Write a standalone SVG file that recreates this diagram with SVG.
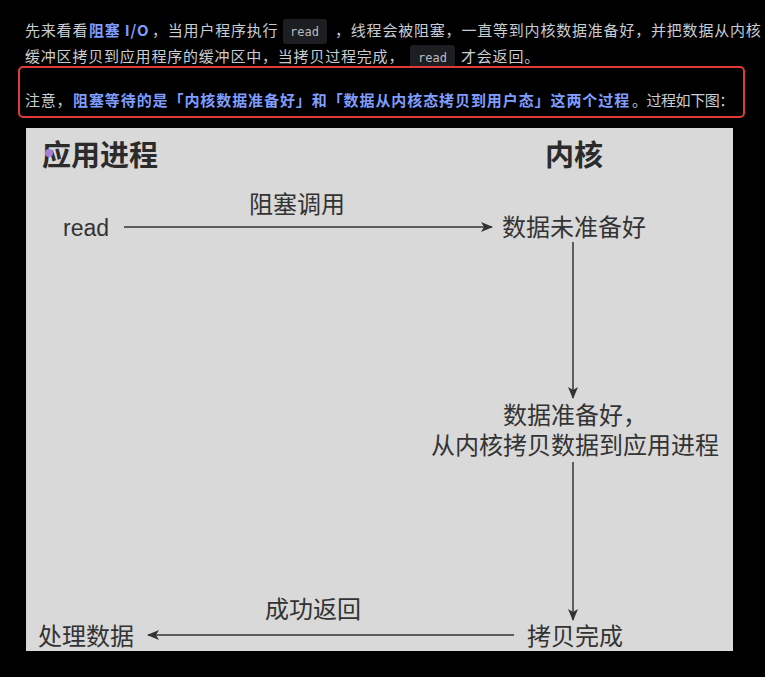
<svg xmlns="http://www.w3.org/2000/svg" width="765" height="677" viewBox="0 0 765 677">
<defs>
<style>
.p{font-family:"Noto Sans CJK SC","Noto Sans",sans-serif;font-size:15px;fill:#c9cdd1;letter-spacing:0.8px}
.b{fill:#7f9cff;font-weight:bold}
.code{font-family:"DejaVu Sans Mono","Liberation Mono",monospace;font-size:12px;fill:#b8bcc0}
.chip{fill:#1c1e21}
.t{font-family:"Noto Sans CJK SC","Liberation Sans",sans-serif;font-size:24px;fill:#333}
.h{font-family:"Noto Sans CJK SC",sans-serif;font-size:29px;font-weight:bold;fill:#2b2b2b}
.ln{stroke:#333;stroke-width:1.5;fill:none}
</style>
<marker id="ah" viewBox="0 0 12 10" refX="11" refY="5" markerWidth="12" markerHeight="10" markerUnits="userSpaceOnUse" orient="auto">
<path d="M0,0 L12,5 L0,10 L3,5 Z" fill="#333"/>
</marker>
</defs>
<rect width="765" height="677" fill="#000"/>
<g id="paragraph">
<text class="p" y="36"><tspan x="25">先来看看</tspan><tspan class="b" x="89">阻塞 I/O</tspan><tspan x="152">，当用户程序执行</tspan></text>
<rect class="chip" x="283" y="19" width="44" height="25" rx="3"/>
<text class="code" x="290" y="36">read</text>
<text class="p" x="335" y="36">，线程会被阻塞，一直等到内核数据准备好，并把数据从内核</text>
<text class="p" x="25" y="62">缓冲区拷贝到应用程序的缓冲区中，当拷贝过程完成，</text>
<rect class="chip" x="410" y="45" width="45" height="23" rx="3"/>
<text class="code" x="418" y="62">read</text>
<text class="p" x="461" y="62">才会返回。</text>
</g>
<g id="note">
<rect x="19" y="67" width="725" height="50" rx="4" fill="none" stroke="#e03a3a" stroke-width="2"/>
<text class="p" y="106"><tspan x="25">注意，</tspan><tspan class="b" x="73" textLength="557" lengthAdjust="spacing">阻塞等待的是「内核数据准备好」和「数据从内核态拷贝到用户态」这两个过程</tspan><tspan x="632" textLength="103" lengthAdjust="spacing">。过程如下图：</tspan></text>
</g>
<g id="panel">
<rect x="26" y="128" width="707" height="523" fill="#d9d9d9"/>
</g>
<g id="title-app"><text class="h" x="42" y="166">应用进程</text></g>
<g id="title-kernel"><text class="h" x="545" y="166">内核</text></g>
<circle cx="49" cy="153" r="4" fill="#a57fd6"/>
<g id="node-read"><text class="t" x="63" y="236" style="font-family:'Liberation Sans',sans-serif;font-size:23px">read</text></g>
<g id="node-notready"><text class="t" x="502" y="236">数据未准备好</text></g>
<g id="node-ready"><text class="t" x="503" y="424">数据准备好，</text><text class="t" x="431" y="454">从内核拷贝数据到应用进程</text></g>
<g id="node-done"><text class="t" x="527" y="645">拷贝完成</text></g>
<g id="node-process"><text class="t" x="38" y="645">处理数据</text></g>
<g id="connectors">
<line class="ln" x1="124" y1="227" x2="492" y2="227" marker-end="url(#ah)"/>
<text class="t" x="249" y="213">阻塞调用</text>
<line class="ln" x1="573" y1="242" x2="573" y2="398" marker-end="url(#ah)"/>
<line class="ln" x1="573" y1="462" x2="573" y2="620" marker-end="url(#ah)"/>
<line class="ln" x1="514" y1="635" x2="148" y2="635" marker-end="url(#ah)"/>
<text class="t" x="265" y="618">成功返回</text>
</g>
</svg>
